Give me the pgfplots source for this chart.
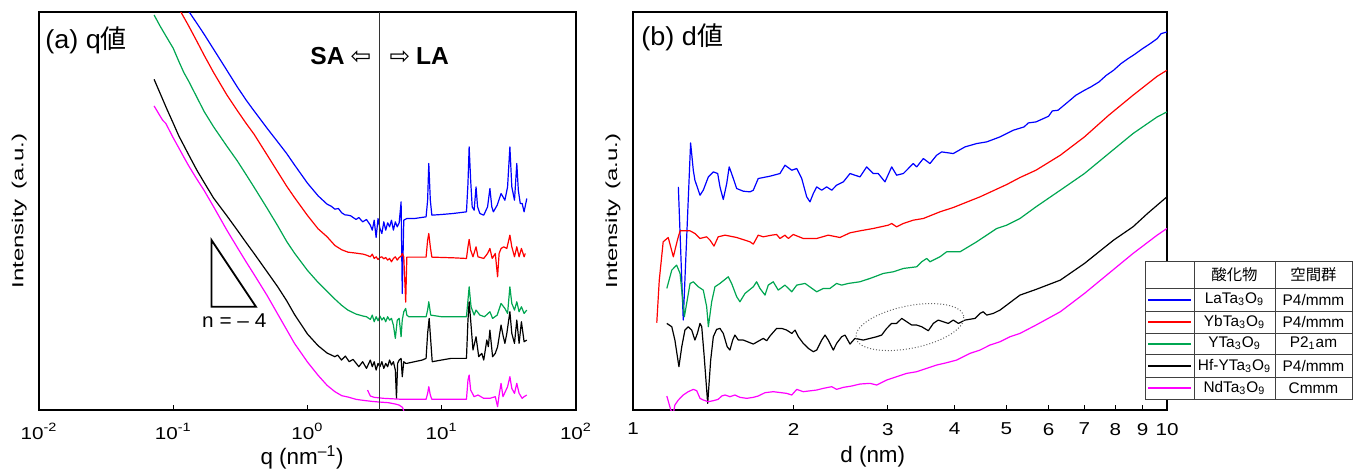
\documentclass[border=0pt]{standalone}
\usepackage{fontspec}
\setmainfont{Liberation Sans}
\newfontfamily\cjk{Noto Sans CJK JP}
\newfontfamily\dejavu{DejaVu Sans}
\newfontfamily\tickfont[FakeStretch=1.2]{Liberation Sans}
\newfontfamily\labfont[FakeStretch=1.04]{Liberation Sans}
\newfontfamily\ylabfont[FakeStretch=1.5]{Liberation Sans}
\usepackage{pgfplots}
\pgfplotsset{compat=1.18}
\definecolor{laBlue}{HTML}{0000FF}
\definecolor{ybRed}{HTML}{FF0000}
\definecolor{yGreen}{HTML}{00A651}
\definecolor{hfBlack}{HTML}{000000}
\definecolor{ndMagenta}{HTML}{FF00FF}

\pgfplotsset{
  /pgfplots/panel/.style={
    scale only axis, height=199pt,
    ymin=0, ymax=1195, ytick=\empty,
    axis line style={line width=0.6pt},
    tick align=inside, xtick pos=left, major tick length=2.5pt,
    xminorticks=false,
    tick style={line width=0.5pt, black},
    xticklabel style={font=\tickfont\fontsize{8.6}{10}\selectfont, yshift=-3pt},
    xlabel style={font=\fontsize{11.2}{13}\selectfont, anchor=center, yshift=-23.5pt},
    ylabel style={font=\ylabfont\fontsize{8}{10}\selectfont, anchor=center},
    ylabel={Intensity\hspace{0.6em}(a.u.)},
    every axis plot/.append style={line width=0.6pt, line join=round},
  },
}

\begin{document}
\begin{tikzpicture}
\path[use as bounding box] (0,0) rectangle (678.5pt,234pt);

% (a) q
\begin{axis}[xmode=log, panel, at={(19.5pt,29pt)}, anchor=south west, width=268.5pt,
  xmin=0.01, xmax=100,
  xtick={0.01,0.1,1,10,100},
  xticklabels={10\textsuperscript{-2},10\textsuperscript{-1},10\textsuperscript{0},10\textsuperscript{1},10\textsuperscript{2}},
  xlabel={q (nm\textsuperscript{–1})},
  xlabel style={at={(axis description cs:0.49,0)}},
  ylabel style={at={(axis description cs:-0.037,0.5)}},
]
% LaTa3O9
\addplot[laBlue] coordinates {
(0.1,1268) (0.12,1219) (0.13,1198) (0.15,1161) (0.17,1128) (0.2,1083) (0.25,1021)
(0.3,970) (0.35,930) (0.4,898) (0.5,846) (0.6,805) (0.7,770) (0.8,736) (1.0,681)
(1.2,643) (1.4,618) (1.5,612) (1.6,603) (1.7,605) (1.8,592) (1.9,586) (2.0,585)
(2.1,583) (2.3,572) (2.412,578) (2.575,565) (2.751,572) (2.938,555) (3.038,540)
(3.14,570) (3.245,518) (3.353,575) (3.465,545) (3.581,530) (3.702,565) (3.825,540)
(3.954,562) (4.087,550) (4.223,570) (4.364,540) (4.511,565) (4.662,550) (4.819,562)
(4.98,625) (5.08,350) (5.214,570) (5.496,575) (6.272,575) (7.645,580) (7.85,630)
(8.007,740) (8.22,630) (8.439,585) (9.95,587) (12.13,590) (15.28,595) (15.68,680)
(16.0,790) (16.42,690) (16.86,610) (17.43,600) (18.01,670) (18.49,610) (19.24,590)
(20.55,585) (21.95,610) (22.84,665) (23.6,610) (24.24,595) (25.88,615) (27.66,650)
(29.54,630) (30.93,670) (32.18,790) (33.26,670) (34.83,630) (36.23,740) (37.2,660)
(38.45,620) (39.73,620) (41.07,595) (43.0,635)};
% YbTa3O9
\addplot[ybRed] coordinates {
(0.1,1236) (0.12,1179) (0.13,1154) (0.15,1107) (0.17,1065) (0.2,1013) (0.25,947)
(0.3,899) (0.35,860) (0.4,828) (0.5,766) (0.6,715) (0.7,672) (0.8,638) (1.0,584)
(1.2,544) (1.4,520) (1.6,494) (1.8,481) (2.0,474) (2.3,471) (2.6,468) (2.751,465)
(2.938,460) (3.038,468) (3.14,455) (3.245,460) (3.353,452) (3.465,458) (3.581,460)
(3.702,454) (3.825,458) (3.954,450) (4.087,455) (4.223,445) (4.364,455) (4.511,460)
(4.662,450) (4.819,458) (4.98,462) (5.08,470) (5.214,460) (5.389,324) (5.496,459)
(7.645,459) (7.85,510) (8.007,530) (8.22,490) (8.439,459) (12.13,457) (15.28,455)
(15.68,490) (16.0,512) (16.42,480) (17.09,460) (18.01,490) (18.62,460) (20.55,455)
(21.95,470) (22.84,485) (23.76,455) (25.05,470) (26.06,400) (26.75,470) (27.66,485)
(28.96,490) (30.53,485) (32.18,525) (33.26,490) (34.83,460) (36.23,490) (37.69,460)
(39.22,485) (41.07,460) (41.88,470)};
% YTa3O9
\addplot[yGreen] coordinates {
(0.072,1186) (0.08,1152) (0.09,1117) (0.1,1086) (0.11,1047) (0.12,1013) (0.13,988)
(0.15,939) (0.17,896) (0.2,850) (0.25,793) (0.3,748) (0.35,706) (0.4,669) (0.5,606)
(0.6,553) (0.7,506) (0.8,471) (1.0,419) (1.2,383) (1.4,356) (1.6,333) (1.8,314)
(2.0,300) (2.3,288) (2.6,282) (2.751,280) (2.938,272) (3.038,285) (3.14,265)
(3.245,280) (3.353,268) (3.465,282) (3.581,270) (3.702,278) (3.825,265) (3.954,280)
(4.087,270) (4.223,275) (4.364,255) (4.511,215) (4.662,270) (4.819,275) (4.98,220)
(5.08,270) (5.214,295) (5.389,305) (5.496,285) (5.681,280) (6.272,280) (7.645,280)
(7.85,300) (8.007,325) (8.274,285) (9.95,280) (12.13,280) (15.28,280) (15.68,330)
(16.0,370) (16.53,310) (17.43,285) (18.01,300) (19.24,285) (20.82,280) (22.84,295)
(23.92,275) (25.88,285) (27.66,320) (29.54,305) (30.93,290) (32.18,370) (33.26,320)
(34.83,300) (36.23,325) (37.69,295) (39.22,310) (41.07,290) (43.0,300)};
% Hf-YTa3O9
\addplot[hfBlack] coordinates {
(0.072,993) (0.08,950) (0.09,902) (0.1,861) (0.11,823) (0.12,794) (0.13,767)
(0.15,720) (0.17,683) (0.2,636) (0.25,584) (0.3,540) (0.35,502) (0.4,470) (0.5,415)
(0.6,370) (0.7,328) (0.8,287) (1.0,228) (1.2,193) (1.4,171) (1.6,160) (1.677,165)
(1.792,150) (1.914,162) (2.045,145) (2.184,152) (2.412,130) (2.575,145) (2.751,125)
(2.938,150) (3.038,130) (3.14,145) (3.245,120) (3.353,140) (3.465,130) (3.581,145)
(3.702,125) (3.825,140) (3.954,130) (4.087,150) (4.223,135) (4.364,145) (4.511,120)
(4.6,35) (4.693,140) (4.819,150) (4.98,155) (5.08,100) (5.214,145) (5.389,140)
(5.496,140) (6.272,145) (7.155,150) (7.645,155) (7.85,230) (8.06,275) (8.274,210)
(8.494,145) (9.95,150) (11.73,155) (15.28,155) (15.68,270) (16.0,325) (16.42,270)
(17.09,180) (18.01,220) (18.86,160) (19.88,170) (20.55,150) (21.66,210) (22.24,190)
(22.84,240) (23.92,160) (25.05,170) (26.06,190) (27.66,255) (28.58,225) (29.54,200)
(30.53,230) (32.18,295) (33.26,230) (34.83,200) (36.23,270) (37.69,200) (39.22,265)
(41.07,205) (43.0,210)};
% NdTa3O9, SA part
\addplot[ndMagenta] coordinates {
(0.072,913) (0.08,882) (0.0834,870) (0.0882,860) (0.09,853) (0.1,817) (0.11,787)
(0.12,759) (0.13,734) (0.15,693) (0.17,659) (0.2,610) (0.25,541) (0.3,488)
(0.35,444) (0.4,407) (0.5,344) (0.6,288) (0.7,241) (0.8,200) (1.0,144) (1.2,104)
(1.4,74) (1.6,55) (1.8,43) (2.0,39) (2.3,32) (2.6,29) (3.0,26) (3.4,24) (4.0,22)
(4.5,18) (4.8,15) (5.1,8) (5.3,-10)};
% NdTa3O9, LA part
\addplot[ndMagenta] coordinates {
(2.8,60) (2.938,42) (3.14,38) (3.702,35) (5.146,32) (7.645,32) (7.85,50) (8.007,70)
(8.22,45) (8.439,32) (15.28,32) (15.68,90) (16.0,105) (16.42,60) (17.43,40)
(18.62,45) (20.55,35) (22.84,35) (25.05,40) (26.06,10) (26.75,45) (27.66,80)
(28.58,40) (30.93,70) (32.18,100) (33.26,65) (34.83,50) (36.23,80) (37.69,50)
(39.73,35) (41.07,40) (43.0,45)};
% SA / LA boundary
\addplot[black!80, line width=0.5pt] coordinates {(3.42,0) (3.42,1195)};
% slope triangle
\draw[line width=0.9pt] (axis cs:0.193,510) -- (axis cs:0.193,310) -- (axis cs:0.413,310) -- cycle;
\node[font=\labfont\fontsize{10}{12}\selectfont] at (axis cs:0.285,268) {n = – 4};
\node[anchor=east, inner sep=0pt, font=\fontsize{12.3}{14}\selectfont\bfseries]
  at (axis cs:3.0,1062) {SA\hspace{3pt}{\dejavu\mdseries ⇦}};
\node[anchor=west, inner sep=0pt, font=\fontsize{12.3}{14}\selectfont\bfseries]
  at (axis cs:4.06,1062) {{\dejavu\mdseries ⇨}\hspace{3pt}LA};
\node[anchor=west, inner sep=0pt, font=\labfont\fontsize{13}{15}\selectfont]
  at (axis description cs:0.011,0.93) {(a) q{\cjk 値}};
\end{axis}

% (b) d
\begin{axis}[xmode=log, panel, at={(316.5pt,29pt)}, anchor=south west, width=267pt,
  xmin=1, xmax=10,
  xtick={1,2,3,4,5,6,7,8,9,10},
  xticklabels={1,2,3,4,5,6,7,8,9,10},
  xlabel={d (nm)},
  xlabel style={at={(axis description cs:0.449,0)}},
  ylabel style={at={(axis description cs:-0.0375,0.5)}},
]
% LaTa3O9
\addplot[laBlue] coordinates {
(1.216,670) (1.242,270) (1.282,802) (1.297,720) (1.306,690) (1.335,645) (1.354,660)
(1.384,700) (1.414,715) (1.441,710) (1.455,670) (1.476,632) (1.498,680) (1.514,730)
(1.530,710) (1.564,665) (1.609,657) (1.656,655) (1.680,660) (1.716,695) (1.805,702)
(1.885,710) (1.926,735) (1.983,720) (2.026,725) (2.070,695) (2.115,640) (2.145,625)
(2.176,650) (2.208,670) (2.256,660) (2.305,670) (2.356,660) (2.406,675) (2.477,685)
(2.549,710) (2.604,705) (2.661,700) (2.739,730) (2.818,710) (2.879,710) (2.964,685)
(3.051,730) (3.117,705) (3.208,710) (3.349,740) (3.399,730) (3.497,755) (3.599,740)
(3.704,765) (3.785,775) (3.980,770) (4.185,790) (4.401,800) (4.596,805) (4.867,820)
(5.154,840) (5.40,850) (5.50,862) (5.684,865) (6.0,882) (6.10,898) (6.25,900)
(6.582,930) (6.75,945) (7.006,960) (7.20,970) (7.458,985) (7.70,1005) (7.943,1020)
(8.20,1040) (8.453,1055) (8.70,1068) (9.000,1085) (9.30,1100) (9.585,1115)
(9.75,1130) (9.996,1135)};
% YbTa3O9
\addplot[ybRed] coordinates {
(1.108,262) (1.120,390) (1.139,505) (1.164,518) (1.190,460) (1.211,510) (1.225,538)
(1.279,538) (1.306,530) (1.335,515) (1.374,520) (1.394,510) (1.418,492) (1.444,520)
(1.487,525) (1.564,518) (1.656,505) (1.680,498) (1.716,525) (1.754,520) (1.819,525)
(1.858,527) (1.885,515) (1.926,525) (1.954,515) (1.996,527) (2.084,515) (2.208,515)
(2.321,525) (2.441,518) (2.549,532) (2.661,538) (2.818,545) (3.007,555) (3.051,560)
(3.117,550) (3.208,560) (3.349,570) (3.497,575) (3.757,595) (3.980,608) (4.465,640)
(5.010,677) (5.305,698) (5.684,720) (6.313,765) (7.006,820) (7.778,885) (8.636,945)
(9.585,1002) (9.996,1020)};
% YTa3O9
\addplot[yGreen] coordinates {
(1.157,365) (1.182,420) (1.207,435) (1.225,410) (1.248,280) (1.279,380) (1.297,385)
(1.325,370) (1.354,360) (1.374,310) (1.384,250) (1.404,325) (1.424,370) (1.455,380)
(1.508,400) (1.530,380) (1.564,340) (1.586,325) (1.621,350) (1.680,370) (1.704,385)
(1.729,365) (1.767,345) (1.792,375) (1.831,385) (1.871,360) (1.926,375) (1.983,355)
(2.026,375) (2.100,380) (2.208,355) (2.272,365) (2.338,365) (2.406,380) (2.459,375)
(2.530,380) (2.661,385) (2.779,395) (2.943,410) (3.073,415) (3.208,425) (3.399,430)
(3.472,445) (3.548,455) (3.599,445) (3.757,460) (3.868,475) (4.097,475) (4.246,490)
(4.401,505) (4.596,525) (4.798,545) (5.010,555) (5.305,575) (5.684,610) (6.313,660)
(7.006,710) (7.778,770) (8.636,830) (9.585,880) (9.996,895)};
% Hf-YTa3O9
\addplot[hfBlack] coordinates {
(1.157,260) (1.182,250) (1.198,210) (1.219,130) (1.234,190) (1.251,240) (1.269,250)
(1.288,240) (1.306,210) (1.320,230) (1.335,260) (1.345,250) (1.358,170) (1.380,20)
(1.398,150) (1.414,220) (1.434,242) (1.455,245) (1.476,230) (1.501,190) (1.519,180)
(1.537,210) (1.552,225) (1.575,210) (1.609,210) (1.680,198) (1.754,215) (1.780,208)
(1.805,222) (1.858,245) (1.899,245) (1.940,240) (1.983,230) (2.011,240) (2.040,220)
(2.084,200) (2.130,185) (2.176,175) (2.208,180) (2.256,210) (2.289,225) (2.321,210)
(2.372,180) (2.406,200) (2.459,220) (2.495,225) (2.549,198) (2.604,215) (2.700,210)
(2.779,215) (2.860,220) (2.922,225) (2.986,245) (3.051,260) (3.117,260) (3.186,275)
(3.256,265) (3.326,255) (3.399,255) (3.472,250) (3.573,238) (3.651,260) (3.730,270)
(3.812,265) (3.895,260) (3.980,270) (4.067,260) (4.185,270) (4.370,275) (4.465,290)
(4.529,295) (4.596,285) (4.728,290) (4.867,300) (5.010,315) (5.154,330) (5.305,345)
(5.684,362) (6.313,390) (7.006,440) (7.458,475) (7.943,510) (8.636,550) (9.193,590)
(9.585,615) (9.996,640)};
% NdTa3O9
\addplot[ndMagenta] coordinates {
(1.157,42) (1.177,0) (1.190,-10) (1.198,15) (1.216,30) (1.242,45) (1.269,55)
(1.297,62) (1.316,58) (1.335,35) (1.354,30) (1.384,25) (1.414,28) (1.444,32)
(1.466,42) (1.487,45) (1.519,40) (1.552,45) (1.586,38) (1.633,35) (1.680,38)
(1.716,42) (1.767,52) (1.831,55) (1.940,50) (1.983,45) (2.026,62) (2.084,55)
(2.208,60) (2.272,65) (2.356,70) (2.406,62) (2.477,68) (2.568,72) (2.661,78)
(2.779,80) (2.860,75) (2.986,90) (3.117,100) (3.256,110) (3.399,115) (3.548,125)
(3.704,135) (3.868,142) (4.039,150) (4.276,170) (4.465,180) (4.661,195) (4.867,205)
(5.082,220) (5.305,230) (5.684,255) (6.313,295) (7.006,350) (7.778,410) (8.636,470)
(9.585,525) (9.996,545)};
\draw[densely dotted, black!60, line width=0.5pt, rotate around={11.5:(axis cs:3.30,249)}]
  (axis cs:3.30,249) ellipse [x radius=27.5pt, y radius=10.6pt];
\node[anchor=west, inner sep=0pt, font=\labfont\fontsize{13}{15}\selectfont]
  at (axis description cs:0.015,0.937) {(b) d{\cjk 値}};
\end{axis}

% table legend
\begin{scope}[font=\fontsize{7.7}{9}\selectfont]
\fill[white] (572.5pt,34.5pt) rectangle (676pt,103.5pt);
\draw[black!75, line width=0.5pt] (572.5pt,34.5pt) rectangle (676pt,103.5pt);
\foreach \yy in {90,78.5,67.5,57,45.5}
  \draw[black!75, line width=0.5pt] (572.5pt,\yy pt) -- (676pt,\yy pt);
\draw[black!75, line width=0.5pt] (597pt,34.5pt) -- (597pt,103.5pt);
\draw[black!75, line width=0.5pt] (637.5pt,34.5pt) -- (637.5pt,103.5pt);
\node at (617.25pt,96.75pt) {\cjk 酸化物};
\node at (656.75pt,96.75pt) {\cjk 空間群};
\draw[draw=laBlue, line width=1pt] (574pt,84pt) -- (595.5pt,84pt);
\draw[draw=ybRed, line width=1pt] (574pt,73pt) -- (595.5pt,73pt);
\draw[draw=yGreen, line width=1pt] (574pt,62pt) -- (595.5pt,62pt);
\draw[draw=hfBlack, line width=1pt] (574pt,51pt) -- (595.5pt,51pt);
\draw[draw=ndMagenta, line width=1pt] (574pt,40pt) -- (595.5pt,40pt);
\node at (617.25pt,84.25pt) {LaTa\textsubscript{3}O\textsubscript{9}};
\node at (617.25pt,73pt) {YbTa\textsubscript{3}O\textsubscript{9}};
\node at (617.25pt,62.25pt) {YTa\textsubscript{3}O\textsubscript{9}};
\node at (617.25pt,51.25pt) {Hf-YTa\textsubscript{3}O\textsubscript{9}};
\node at (617.25pt,40pt) {NdTa\textsubscript{3}O\textsubscript{9}};
\node at (656.75pt,84.25pt) {P4/mmm};
\node at (656.75pt,73pt) {P4/mmm};
\node at (656.75pt,62.25pt) {P2\textsubscript{1}am};
\node at (656.75pt,51.25pt) {P4/mmm};
\node at (656.75pt,40pt) {Cmmm};
\end{scope}
\end{tikzpicture}
\end{document}
